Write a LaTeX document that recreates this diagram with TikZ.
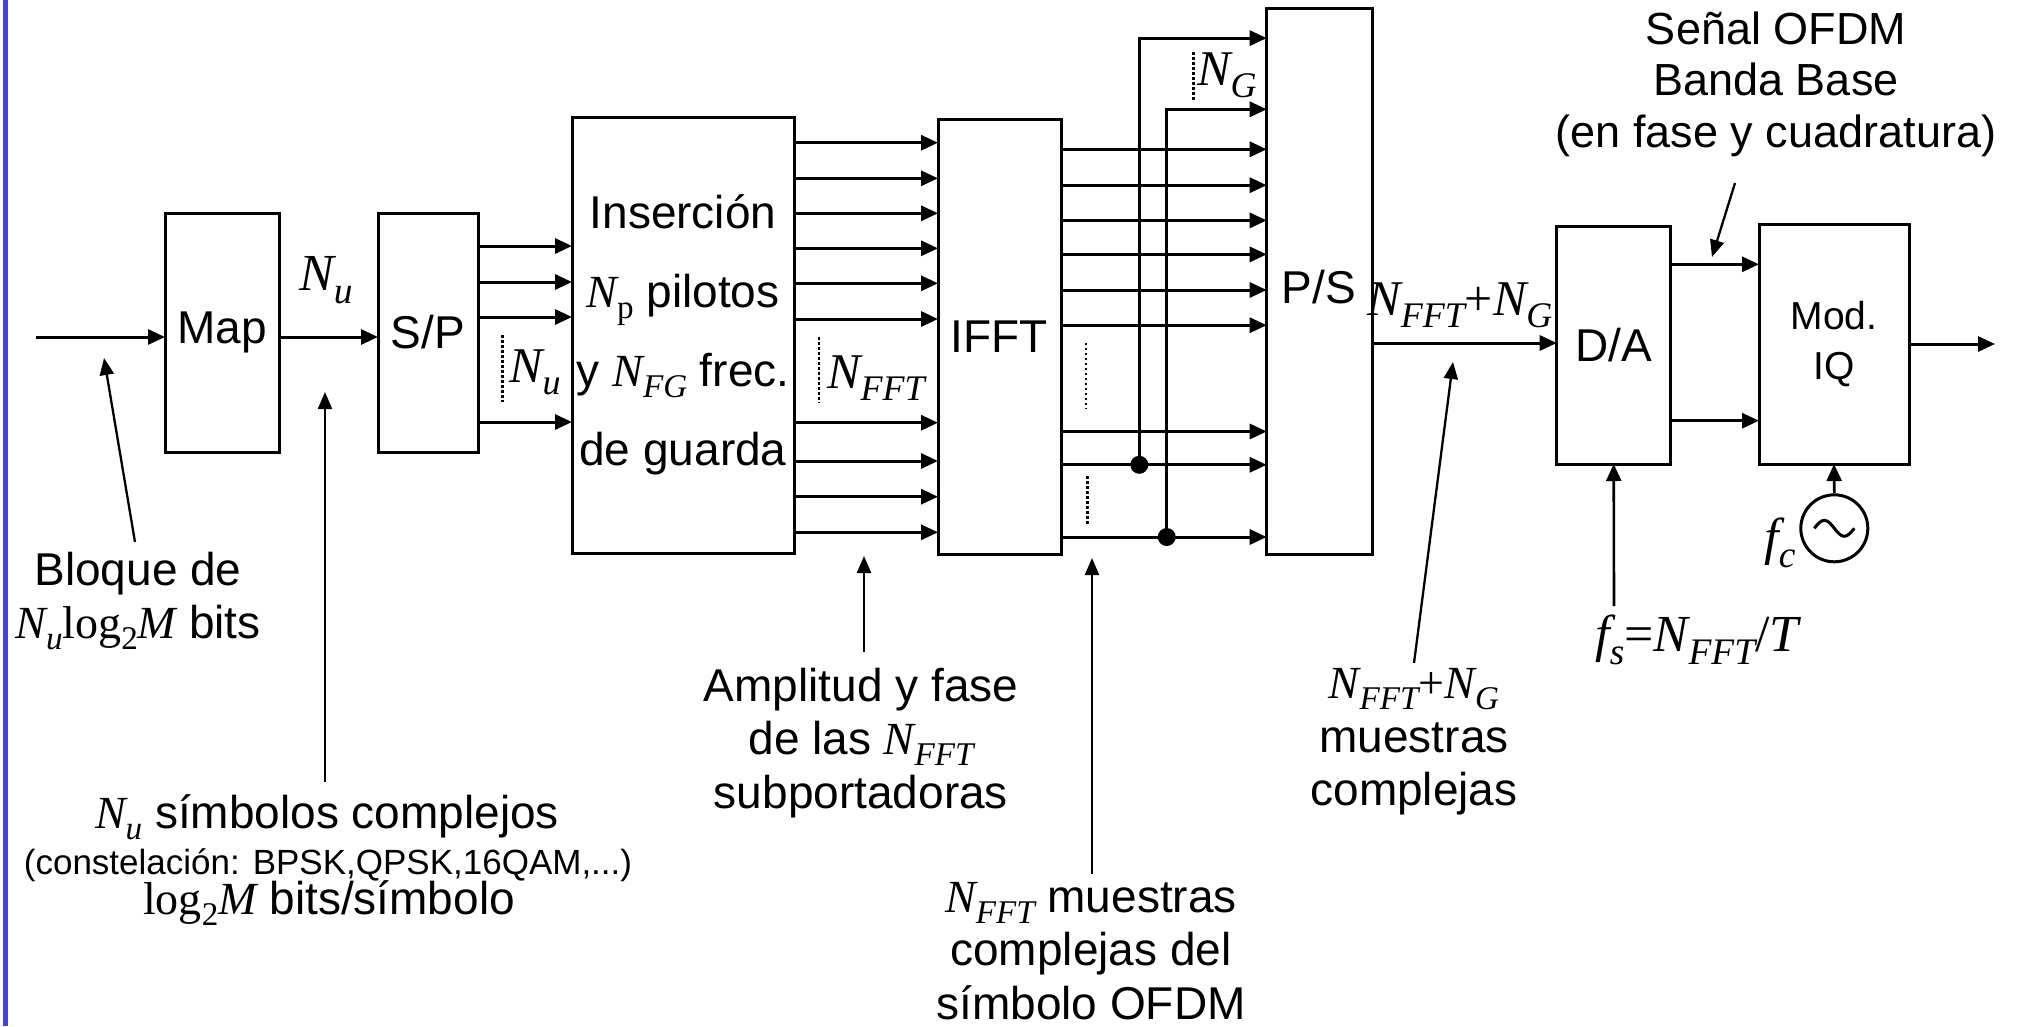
\documentclass[tikz,border=0pt]{standalone}
\usepackage{fontspec}
\setmainfont{Liberation Sans}
\newfontfamily\tms{Liberation Serif}
\usetikzlibrary{arrows.meta}
\definecolor{barblue}{RGB}{66,66,222}
\newcommand\MI[1]{{\tms\itshape #1}}
\newcommand\UR[1]{{\tms #1}}
\newcommand\SBI[1]{\raisebox{-0.24em}{\scalebox{0.72}{\tms\itshape #1}}}
\newcommand\SBU[1]{\raisebox{-0.24em}{\scalebox{0.72}{\tms #1}}}
\tikzset{
  box/.style={draw, line width=3pt, inner sep=0pt, outer sep=0pt, font=\fontsize{46}{79}\selectfont, align=center},
  arr/.style={line width=3pt, -{Triangle[length=17pt,width=15pt]}},
  ann/.style={line width=2.3pt, -{Triangle[length=17pt,width=14pt]}},
  dots/.style={line width=2.8pt, dash pattern=on 2.6pt off 2.4pt},
  lab/.style={inner sep=0pt, align=center, font=\fontsize{46}{53.5}\selectfont},
  mlab/.style={inner sep=0pt, font=\fontsize{52}{56}\selectfont},
  jdot/.style={circle, fill, inner sep=0pt, minimum size=18pt}
}
\begin{document}
\begin{tikzpicture}[x=1pt,y=-1pt]
\useasboundingbox (0,0) rectangle (2029,1026);
\fill[white] (0,0) rectangle (2029,1026);
\fill[barblue] (2.5,0) rectangle (7.5,1026);

% blocks
\node[box, minimum width=114pt, minimum height=239pt] (map) at (222,332.5) {Map};
\node[box, minimum width=100pt, minimum height=239pt] (sp) at (428,332.5) {S/P};
\node[box, minimum width=222pt, minimum height=436pt] (ins) at (683,335)
  {Inserción\\ \MI{N}\SBU{p} pilotos\\ y \MI{N}\SBI{FG} frec.\\ de guarda};
\node[box, minimum width=123pt, minimum height=435pt] (ifft) at (999.5,336.5) {IFFT};
\node[box, minimum width=105.6pt, minimum height=546.4pt] (ps) at (1319.5,281.2) {};
\node[lab, font=\fontsize{46}{50}\selectfont] (pstxt) at (1319,287) {P/S};
\node[box, minimum width=114pt, minimum height=238pt] (da) at (1613.7,345) {D/A};
\node[box, minimum width=150pt, minimum height=239.7pt, font=\fontsize{39}{50}\selectfont] (mod) at (1834,344.2) {Mod.\\ IQ};
\node[draw, circle, line width=3pt, minimum size=67pt, inner sep=0pt] (osc) at (1834.3,528.3) {};
\draw[line width=3pt] (osc.center) ++(-20,0) sin ++(10,-8) cos ++(10,8) sin ++(10,8) cos ++(10,-8);

% main signal path
\coordinate (in) at (36,337);
\draw[arr] (in) -- (map.west |- in);
\draw[arr] (map.east |- 0,337) -- (sp.west |- 0,337);
\foreach \y in {246,282,317,422} \draw[arr] (sp.east |- 0,\y) -- (ins.west |- 0,\y);
\foreach \y in {142.7,178.3,213.3,248.3,283.3,319,422.7,461,496.7,532.3}
  \draw[arr] (ins.east |- 0,\y) -- (ifft.west |- 0,\y);
\foreach \y in {149.3,185.2,220.4,254.4,290,325.2,431.5,464.8,537}
  \draw[arr] (ifft.east |- 0,\y) -- (ps.west |- 0,\y);
\node[jdot] (j1) at (1139.3,464.8) {};
\node[jdot] (j2) at (1166.7,537) {};
\draw[arr] (j1.center) |- (ps.west |- 0,38.1);
\draw[arr] (j2.center) |- (ps.west |- 0,109.3);
\draw[arr] (ps.east |- 0,343) -- (da.west |- 0,343);
\draw[arr] (da.east |- 0,264.3) -- (mod.west |- 0,264.3);
\draw[arr] (da.east |- 0,420.7) -- (mod.west |- 0,420.7);
\coordinate (out) at (1995,344);
\draw[arr] (mod.east |- out) -- (out);
\draw[arr, line width=2.6pt] (osc.north) -- (mod.south);

% dotted ellipses
\draw[dots] (502.5,335) -- (502.5,402);
\draw[dots] (819,337) -- (819,403);
\draw[dots] (1086,342.6) -- (1086,409.3);
\draw[dots] (1087.7,476) -- (1087.7,525);
\draw[dots] (1193.3,51.9) -- (1193.3,100);

% small labels
\node[mlab] (lnu1) at (326,280) {\MI{N}\SBI{u}};
\node[mlab, font=\fontsize{50}{56}\selectfont] (lnu2) at (535,372) {\MI{N}\SBI{u}};
\node[mlab, font=\fontsize{50}{56}\selectfont] (lnfft) at (876,378) {\MI{N}\SBI{FFT}};
\node[mlab, font=\fontsize{50}{56}\selectfont] (lng) at (1227,75) {\MI{N}\SBI{G}};
\node[mlab, font=\fontsize{50}{56}\selectfont] (lnng) at (1460,305) {\MI{N}\SBI{FFT}\UR{+}\MI{N}\SBI{G}};
\node[mlab] (lfc) at (1780,543) {\MI{f}\SBI{c}};

% annotation labels
\node[lab, font=\fontsize{45}{51.5}\selectfont] (senal) at (1776,84) {Señal OFDM\\ Banda Base\\ (en fase y cuadratura)};
\node[lab] (bloq) at (138,601) {Bloque de\\ \MI{N}\SBI{u}\UR{log}\SBU{2}\MI{M} bits};
\node[lab] (nus1) at (327,817) {\MI{N}\SBI{u} símbolos complejos};
\node[lab, font=\fontsize{35}{40}\selectfont] (nus2) at (328,865) {(constelación: BPSK,QPSK,16QAM,...)};
\node[lab] (nus3) at (329,903) {\UR{log}\SBU{2}\MI{M} bits/símbolo};
\node[lab] (amp) at (861,743) {Amplitud y fase\\ de las \MI{N}\SBI{FFT}\\ subportadoras};
\node[lab] (nfm) at (1091,951) {\MI{N}\SBI{FFT} muestras\\ complejas del\\ símbolo OFDM};
\node[lab] (nngm) at (1414,742) {\MI{N}\SBI{FFT}\UR{+}\MI{N}\SBI{G}\\ muestras\\ complejas};
\node[mlab] (lfs) at (1697,640) {\MI{f}\SBI{s}\UR{=}\MI{N}\SBI{FFT}\UR{/}\MI{T}};

% annotation arrows
\coordinate (bs) at (135,542);   \coordinate (bt) at (104,358);
\draw[ann] (bs) -- (bt);
\coordinate (ns) at (325,782);   \coordinate (nt) at (325,392);
\draw[ann] (ns) -- (nt);
\coordinate (as) at (864,652);   \coordinate (at1) at (864,556);
\draw[ann] (as) -- (at1);
\coordinate (fs1) at (1092,874); \coordinate (ft1) at (1092,558);
\draw[ann] (fs1) -- (ft1);
\coordinate (gs) at (1414,663);  \coordinate (gt) at (1453,362);
\draw[ann] (gs) -- (gt);
\coordinate (ss) at (1735,183);  \coordinate (st) at (1712,257);
\draw[ann] (ss) -- (st);
\coordinate (fsb) at (1614,606);
\draw[arr, line width=2.6pt] (fsb) -- (da.south);
\end{tikzpicture}
\end{document}
